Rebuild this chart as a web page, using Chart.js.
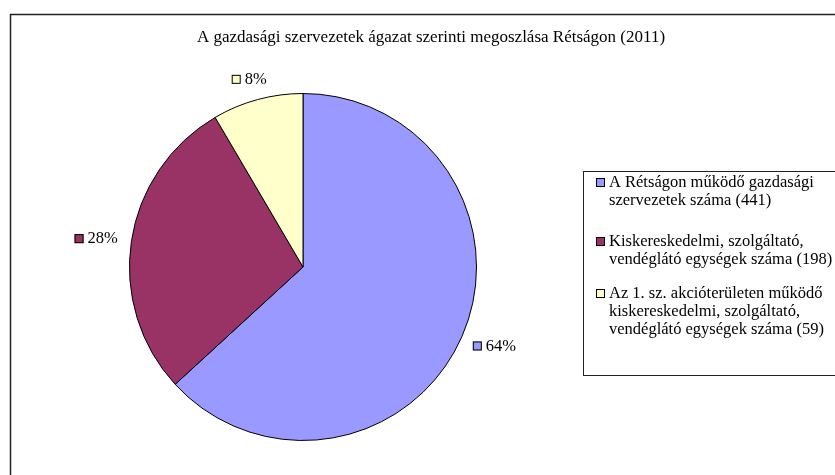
<!DOCTYPE html>
<html>
<head>
<meta charset="utf-8">
<script src="https://cdn.jsdelivr.net/npm/chart.js@4/dist/chart.umd.min.js"></script>
<style>
html,body{margin:0;padding:0;background:#fff;}
canvas{display:block;}
</style>
</head>
<body>
<canvas id="grafico" width="835" height="475"></canvas>
<script>
const titulo = "A gazdasági szervezetek ágazat szerinti megoszlása Rétságon (2011)";
const categorias = [
    ["A Rétságon működő gazdasági", "szervezetek száma (441)"],
    ["Kiskereskedelmi, szolgáltató,", "vendéglátó egységek száma (198)"],
    ["Az 1. sz. akcióterületen működő", "kiskereskedelmi, szolgáltató,", "vendéglátó egységek száma (59)"]
];
const valores = [441, 198, 59];
const porcentajes = ["64%", "28%", "8%"];
const colores = ["#9999FF", "#993366", "#FFFFCC"];

const fuenteTitulo = "17px 'Liberation Serif', 'Times New Roman', serif";
const fuente = "16.5px 'Liberation Serif', 'Times New Roman', serif";

function cuadrito(ctx, x, y, color){
    ctx.fillStyle = color;
    ctx.fillRect(x, y - 4, 9, 9);
    ctx.strokeStyle = "#000";
    ctx.lineWidth = 1;
    ctx.strokeRect(x + 0.5, y - 3.5, 8, 8);
}

const dibujos = {
    id: "dibujos",
    beforeDraw(chart){
        const ctx = chart.ctx;
        ctx.save();
        ctx.fillStyle = "#fff";
        ctx.fillRect(0, 0, chart.width, chart.height);
        ctx.strokeStyle = "#222";
        ctx.lineWidth = 1.5;
        ctx.strokeRect(10.5, 14.5, 900, 600);
        ctx.restore();
    },
    afterDraw(chart){
        const ctx = chart.ctx;
        ctx.save();
        ctx.fillStyle = "#000";
        ctx.textBaseline = "middle";

        // titulo
        ctx.font = fuenteTitulo;
        ctx.textAlign = "center";
        ctx.fillText(titulo, 431, 38);

        // etiquetas de porcentaje
        ctx.font = fuente;
        const meta = chart.getDatasetMeta(0);
        meta.data.forEach((arco, i) => {
            const ang = (arco.startAngle + arco.endAngle) / 2;
            const r = arco.outerRadius + 14;
            const ax = arco.x + r * Math.cos(ang);
            const ay = arco.y + r * Math.sin(ang);
            const w = 13 + ctx.measureText(porcentajes[i]).width;
            const h = 15;
            const cx = ax + (w / 2) * Math.cos(ang);
            const cy = ay + (h / 2) * Math.sin(ang);
            const x0 = cx - w / 2;
            cuadrito(ctx, x0, cy, colores[i]);
            ctx.fillStyle = "#000";
            ctx.textAlign = "left";
            ctx.fillText(porcentajes[i], x0 + 13, cy + 1);
        });

        // leyenda
        ctx.strokeStyle = "#222";
        ctx.lineWidth = 1;
        ctx.strokeRect(583.5, 171.5, 300, 204);
        const inicios = [182, 241, 293];
        categorias.forEach((lineas, i) => {
            cuadrito(ctx, 596, inicios[i], colores[i]);
            ctx.fillStyle = "#000";
            ctx.textAlign = "left";
            lineas.forEach((t, j) => {
                ctx.fillText(t, 609, inicios[i] + j * 18 + 1);
            });
        });
        ctx.restore();
    }
};

new Chart(document.getElementById("grafico"), {
    type: "pie",
    data: {
        labels: categorias.map(c => c.join(" ")),
        datasets: [{
            data: valores,
            backgroundColor: colores,
            borderColor: "#000",
            borderWidth: 1
        }]
    },
    options: {
        responsive: false,
        animation: false,
        layout: {padding: {left: 129, top: 93, right: 358, bottom: 34}},
        plugins: {
            legend: {display: false},
            tooltip: {enabled: false}
        }
    },
    plugins: [dibujos]
});
</script>
</body>
</html>
